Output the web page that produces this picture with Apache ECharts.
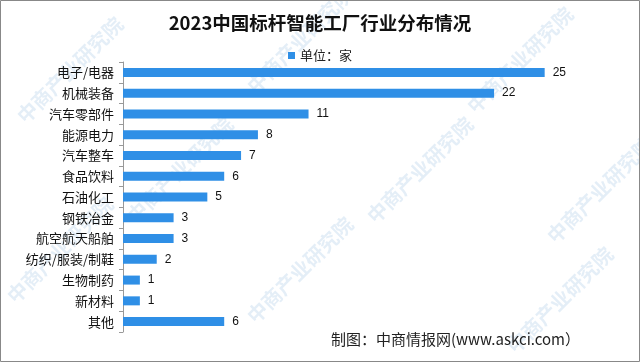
<!DOCTYPE html>
<html><head><meta charset="utf-8">
<script src="https://cdn.jsdelivr.net/npm/echarts@6/dist/echarts.min.js"></script>
<style>html,body{margin:0;padding:0;background:#fff}#c{width:640px;height:363px}</style>
</head><body><div id="c"></div>
<script>
const categories = ['电子/电器','机械装备','汽车零部件','能源电力','汽车整车','食品饮料','石油化工','钢铁冶金','航空航天船舶','纺织/服装/制鞋','生物制药','新材料','其他'];
const values = [25,22,11,8,7,6,5,3,3,2,1,1,6];
const titleText = '2023中国标杆智能工厂行业分布情况';
const legendName = '单位：家';
const sourceText = '制图：中商情报网(www.askci.com）';
const watermarkText = '中商产业研究院';

const chart = echarts.init(document.getElementById('c'));
const wmPos = [[70,70],[300,40],[520,60],[180,170],[420,170],[600,190],[60,250],[300,270],[560,300]];
const wm = wmPos.map(p => ({
  type:'text', x:p[0], y:p[1], rotation:Math.PI/4, silent:true, z:-1,
  style:{text:watermarkText, fill:'rgba(120,170,215,0.2)', font:'bold 20px "Noto Sans CJK SC"', align:'center', verticalAlign:'middle'}
}));
chart.setOption({
  animation:false,
  title:{text:titleText, left:'center', top:9, textStyle:{fontFamily:'"Noto Sans CJK SC"', fontSize:18.5, fontWeight:'bold', color:'#111'}},
  legend:{data:[legendName], top:44, left:'center', itemWidth:7, itemHeight:7, itemGap:5, icon:'rect',
    textStyle:{fontFamily:'"Noto Sans CJK SC"', fontSize:13, color:'#222'}},
  grid:{left:123, right:11, top:62, bottom:31},
  xAxis:{type:'value', min:0, max:30, show:false},
  yAxis:{type:'category', inverse:true, data:categories,
    axisLine:{lineStyle:{color:'#999'}}, axisTick:{show:true, length:4, lineStyle:{color:'#999'}},
    axisLabel:{fontFamily:'"Noto Sans CJK SC"', fontSize:13, color:'#111', margin:9}},
  series:[{name:legendName, type:'bar', data:values, barWidth:9,
    itemStyle:{color:'#2f8fe6'},
    label:{show:true, position:'right', distance:8, fontFamily:'Arial, "Liberation Sans"', fontSize:12, color:'#111'}}],
  graphic:[
    ...wm,
    {type:'rect', shape:{x:0.5,y:0.5,width:639,height:361}, style:{fill:'none', stroke:'#888', lineWidth:1}, silent:true},
    {type:'text', right:60, top:332, style:{text:sourceText, font:'15px "Noto Sans CJK SC"', fill:'#222'}}
  ]
});
</script></body></html>
